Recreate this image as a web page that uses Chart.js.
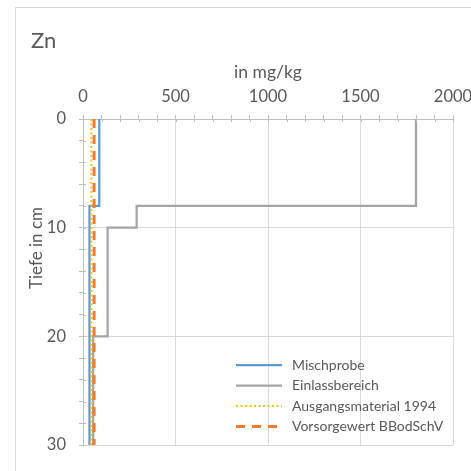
<!DOCTYPE html>
<html>
<head>
<meta charset="utf-8">
<script src="https://cdn.jsdelivr.net/npm/chart.js@4.4.0/dist/chart.umd.min.js"></script>
<style>
  html, body { margin: 0; padding: 0; background: #fff; overflow: hidden; }
  #wrap { position: relative; width: 471px; height: 471px; }
  #frame { position: absolute; left: 15px; top: 7px; width: 540px; height: 540px; border: 1px solid #d9d9d9; box-sizing: border-box; }
  #znChart { position: absolute; left: 0; top: 0; }
</style>
</head>
<body>
<div id="wrap">
  <div id="frame"></div>
  <canvas id="znChart" width="471" height="471"></canvas>
</div>
<script>
// Tiefe (cm) und Zn-Gehalt (mg/kg), Stufenverlauf
const depthMisch = [0, 8, 8, 30];
const valMisch = [88, 88, 35, 35];
const depthEinlass = [0, 8, 8, 10, 10, 20, 20, 30];
const valEinlass = [1800, 1800, 290, 290, 133, 133, 55, 55];
const depthAusgang = [0, 30];
const valAusgang = [45, 45];
const depthVorsorge = [0, 30];
const valVorsorge = [60, 60];

const seriesNames = ['Mischprobe', 'Einlassbereich', 'Ausgangsmaterial 1994', 'Vorsorgewert BBodSchV'];
const xTickLabels = [0, 500, 1000, 1500, 2000];
const yTickLabels = [0, 10, 20, 30];

const textColor = '#595959';
const fontFamily = 'Lato, "Open Sans", sans-serif';

let toPoints = (depths, vals) => depths.map((d, i) => ({ x: vals[i], y: d }));

// inner half of the crossing tick marks, chart title, y title and legend
const extrasPlugin = {
    id: 'extras',
    afterDraw(chart) {
        const ctx = chart.ctx;
        const area = chart.chartArea;
        const xs = chart.scales.x;
        const ys = chart.scales.y;
        ctx.save();
        ctx.strokeStyle = '#bfbfbf';
        ctx.lineWidth = 1;
        xs.ticks.forEach(t => {
            const px = Math.round(xs.getPixelForValue(t.value)) + 0.5;
            ctx.beginPath();
            ctx.moveTo(px, area.top);
            ctx.lineTo(px, area.top + 3);
            ctx.stroke();
        });
        ys.ticks.forEach(t => {
            const py = Math.round(ys.getPixelForValue(t.value)) + 0.5;
            ctx.beginPath();
            ctx.moveTo(area.left, py);
            ctx.lineTo(area.left + 3, py);
            ctx.stroke();
        });

        ctx.fillStyle = textColor;
        ctx.textBaseline = 'middle';
        ctx.textAlign = 'left';
        ctx.font = '22px ' + fontFamily;
        ctx.fillText('Zn', 31, 41);

        ctx.save();
        ctx.translate(37, 248);
        ctx.rotate(-Math.PI / 2);
        ctx.textAlign = 'center';
        ctx.font = '17px ' + fontFamily;
        ctx.fillText('Tiefe in cm', 0, 0);
        ctx.restore();

        // legend
        ctx.font = '14px ' + fontFamily;
        chart.data.datasets.forEach((ds, i) => {
            const y = 365 + i * 20.5;
            ctx.save();
            ctx.strokeStyle = ds.borderColor;
            ctx.lineWidth = ds.borderWidth;
            ctx.setLineDash(ds.borderDash || []);
            ctx.beginPath();
            ctx.moveTo(236, y);
            ctx.lineTo(282, y);
            ctx.stroke();
            ctx.restore();
            ctx.fillText(ds.label, 292, y);
        });
        ctx.restore();
    }
};

let ctx = document.getElementById('znChart').getContext('2d');
let znChart = new Chart(ctx, {
    type: 'scatter',
    data: {
        datasets: [{
            label: seriesNames[0],
            data: toPoints(depthMisch, valMisch),
            borderColor: '#5b9bd5',
            borderWidth: 2.25,
            order: 3
        }, {
            label: seriesNames[1],
            data: toPoints(depthEinlass, valEinlass),
            borderColor: '#a5a5a5',
            borderWidth: 2.25,
            order: 2
        }, {
            label: seriesNames[2],
            data: toPoints(depthAusgang, valAusgang),
            borderColor: '#ffc000',
            borderWidth: 2,
            borderDash: [2, 2.5],
            order: 1
        }, {
            label: seriesNames[3],
            data: toPoints(depthVorsorge, valVorsorge),
            borderColor: '#ed7d31',
            borderWidth: 3,
            borderDash: [9, 7],
            order: 0
        }].map(ds => Object.assign(ds, { showLine: true, pointRadius: 0, pointHoverRadius: 0, fill: false, tension: 0 }))
    },
    options: {
        responsive: false,
        animation: false,
        layout: { padding: { left: 0, top: 0, right: 18, bottom: 26 } },
        plugins: {
            legend: { display: false },
            tooltip: { enabled: false }
        },
        scales: {
            x: {
                type: 'linear',
                position: 'top',
                min: 0,
                max: 2000,
                afterFit: scale => {
                    scale.height = 119;
                    scale.paddingRight = 0;
                    scale.paddingLeft = 0;
                },
                border: { color: '#bfbfbf' },
                grid: {
                    color: c => (c.tick && xTickLabels.includes(c.tick.value)) ? '#d9d9d9' : 'rgba(0,0,0,0)',
                    tickColor: '#bfbfbf',
                    tickLength: 4
                },
                ticks: {
                    stepSize: 100,
                    autoSkip: false,
                    maxRotation: 0,
                    padding: 8,
                    color: textColor,
                    font: { family: fontFamily, size: 16.5 },
                    callback: v => xTickLabels.includes(v) ? String(v) : ''
                },
                title: {
                    display: true,
                    text: 'in mg/kg',
                    color: textColor,
                    font: { family: fontFamily, size: 17.5 },
                    padding: { top: 62, bottom: 0 }
                }
            },
            y: {
                type: 'linear',
                reverse: true,
                min: 0,
                max: 30,
                afterFit: scale => { scale.width = 83; },
                border: { color: '#bfbfbf' },
                grid: {
                    color: c => (c.tick && yTickLabels.includes(c.tick.value)) ? '#d9d9d9' : 'rgba(0,0,0,0)',
                    tickColor: '#bfbfbf',
                    tickLength: 4
                },
                ticks: {
                    stepSize: 2,
                    autoSkip: false,
                    padding: 13,
                    color: textColor,
                    font: { family: fontFamily, size: 16.5 },
                    callback: v => yTickLabels.includes(v) ? String(v) : ''
                }
            }
        }
    },
    plugins: [extrasPlugin]
});
</script>
</body>
</html>
